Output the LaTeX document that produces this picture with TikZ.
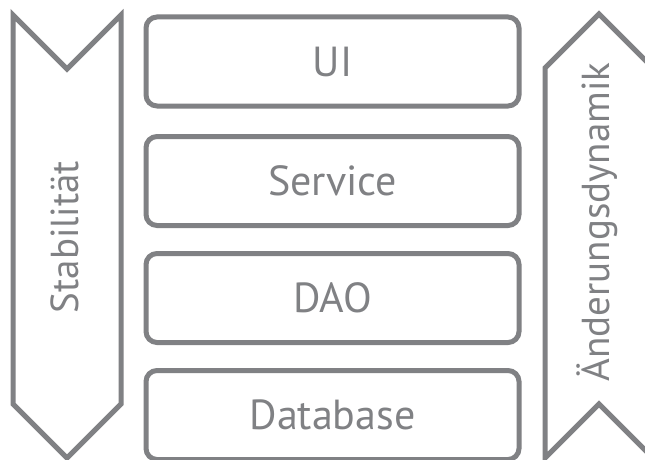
\documentclass[tikz,border=0pt]{standalone}
\usepackage{fontspec}
\setmainfont{PT Sans}
\definecolor{lg}{RGB}{128,129,132}
\tikzset{
  layer/.style={draw=lg, line width=5pt, rounded corners=11pt, minimum width=373pt, minimum height=89pt, inner sep=0pt, text=lg, font=\fontsize{42}{44}\selectfont},
  arrowshape/.style={draw=lg, line width=5pt, line join=miter},
  vlabel/.style={text=lg, font=\fontsize{39}{41}\selectfont, rotate=90, inner sep=0pt}
}
\begin{document}
\begin{tikzpicture}[x=1pt,y=-1pt]
\useasboundingbox (0,0) rectangle (645,460);
\clip (0,0) rectangle (645,460);
\fill[white] (0,0) rectangle (645,460);
% left arrow
\draw[arrowshape] (13,15) -- (67,69) -- (121,15) -- (121,404) -- (67,458) -- (13,404) -- cycle;
% right arrow
\draw[arrowshape] (545,68) -- (599,14) -- (653,68) -- (653,458) -- (599,404) -- (545,458) -- cycle;
% layers
\node[layer] (ui) at (332.5,61.5) {UI};
\node[layer] (service) at (332.5,181) {Service};
\node[layer] (dao) at (332.5,298) {DAO};
\node[layer] (db) at (332.5,415) {Database};
% labels
\node[vlabel] (stab) at (65,237) {Stabilität};
\node[vlabel] (aend) at (597,222) {Änderungsdynamik};
\end{tikzpicture}
\end{document}
